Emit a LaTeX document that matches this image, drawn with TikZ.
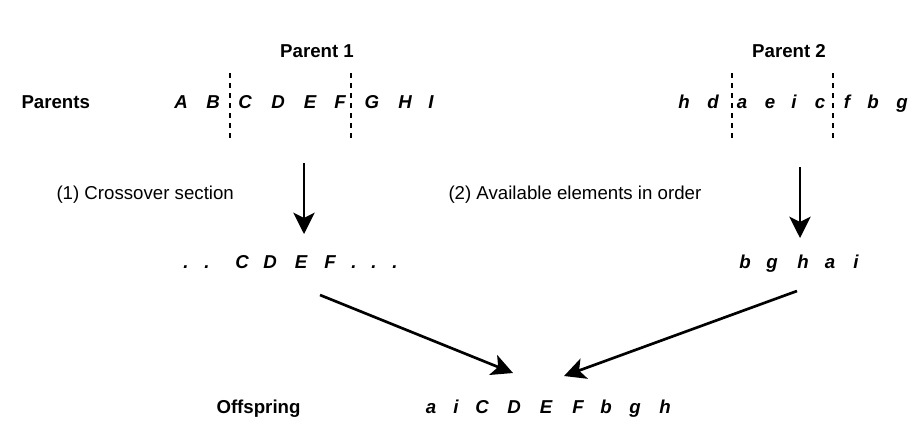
\documentclass[tikz,border=0pt]{standalone}
\usepackage{fontspec}
\setmainfont{Liberation Sans}
\usetikzlibrary{arrows.meta}

\tikzset{every picture/.style={line width=0.75pt}}
\tikzset{
  gene/.style={font=\fontsize{14}{16}\selectfont\bfseries\itshape, inner sep=0.75pt, anchor=base},
  heading/.style={font=\fontsize{14}{16}\selectfont\bfseries, inner sep=0.75pt},
  note/.style={font=\fontsize{14}{16}\selectfont, inner sep=0.75pt, anchor=base west},
  cut/.style={line width=1.7pt, dash pattern=on 3.9pt off 3.6pt},
  flow/.style={line width=2pt, -{Stealth[length=16pt,width=16pt,inset=4pt]}},
}

\begin{document}
\begin{tikzpicture}[x=0.75pt,y=0.75pt,yscale=-1,xscale=1]
\useasboundingbox (0,0) rectangle (920,426);

% Text Node
\node [heading, anchor=base] (par1) at (317,57) {Parent 1};
% Text Node
\node [heading, anchor=base] (par2) at (789,57) {Parent 2};
% Text Node
\node [heading, anchor=base west] (parents) at (20,108) {Parents};
% Text Node
\node [heading, anchor=base west] (offspring) at (215,413) {Offspring};

% Parent 1 genes
\node [gene] (p1A) at (181,108) {A};
\node [gene] (p1B) at (213,108) {B};
\node [gene] (p1C) at (245,108) {C};
\node [gene] (p1D) at (278,108) {D};
\node [gene] (p1E) at (310,108) {E};
\node [gene] (p1F) at (340,108) {F};
\node [gene] (p1G) at (372,108) {G};
\node [gene] (p1H) at (405,108) {H};
\node [gene] (p1I) at (431,108) {I};

% Parent 2 genes
\node [gene] (p2h) at (684,108) {h};
\node [gene] (p2d) at (713,108) {d};
\node [gene] (p2a) at (742,108) {a};
\node [gene] (p2e) at (770,108) {e};
\node [gene] (p2i) at (794,108) {i};
\node [gene] (p2c) at (820,108) {c};
\node [gene] (p2f) at (847,108) {f};
\node [gene] (p2b) at (873,108) {b};
\node [gene] (p2g) at (902,108) {g};

% Cut points
\coordinate (cut1t) at (230,73);
\coordinate (cut1b) at (230,140);
\coordinate (cut2t) at (351,73);
\coordinate (cut2b) at (351,140);
\coordinate (cut3t) at (732,73);
\coordinate (cut3b) at (732,140);
\coordinate (cut4t) at (833,73);
\coordinate (cut4b) at (833,140);
\draw [cut] (cut1t) -- (cut1b);
\draw [cut] (cut2t) -- (cut2b);
\draw [cut] (cut3t) -- (cut3b);
\draw [cut] (cut4t) -- (cut4b);

% Text Node
\node [note] (step1) at (55,199) {(1) Crossover section};
% Text Node
\node [note] (step2) at (447,199) {(2) Available elements in order};

% Crossover section
\node [gene] (m1d1) at (186,268) {.};
\node [gene] (m1d2) at (207,268) {.};
\node [gene] (m1C) at (242,268) {C};
\node [gene] (m1D) at (270,268) {D};
\node [gene] (m1E) at (301,268) {E};
\node [gene] (m1F) at (330,268) {F};
\node [gene] (m1d3) at (354,268) {.};
\node [gene] (m1d4) at (374,268) {.};
\node [gene] (m1d5) at (395,268) {.};

% Available elements
\node [gene] (m2b) at (745,268) {b};
\node [gene] (m2g) at (772,268) {g};
\node [gene] (m2h) at (803,268) {h};
\node [gene] (m2a) at (830,268) {a};
\node [gene] (m2i) at (856,268) {i};

% Offspring genes
\node [gene] (oa) at (431,413) {a};
\node [gene] (oi) at (456,413) {i};
\node [gene] (oC) at (482,413) {C};
\node [gene] (oD) at (514,413) {D};
\node [gene] (oE) at (546,413) {E};
\node [gene] (oF) at (578,413) {F};
\node [gene] (ob) at (606,413) {b};
\node [gene] (og) at (635,413) {g};
\node [gene] (oh) at (665,413) {h};

% Arrows
\coordinate (a1s) at (304,163);
\coordinate (a1e) at (304,234);
\coordinate (a2s) at (800,167);
\coordinate (a2e) at (800,238);
\coordinate (a3s) at (320,295);
\coordinate (a3e) at (513,373);
\coordinate (a4s) at (797,291);
\coordinate (a4e) at (564,376);
\draw [flow] (a1s) -- (a1e);
\draw [flow] (a2s) -- (a2e);
\draw [flow] (a3s) -- (a3e);
\draw [flow] (a4s) -- (a4e);

\end{tikzpicture}
\end{document}
